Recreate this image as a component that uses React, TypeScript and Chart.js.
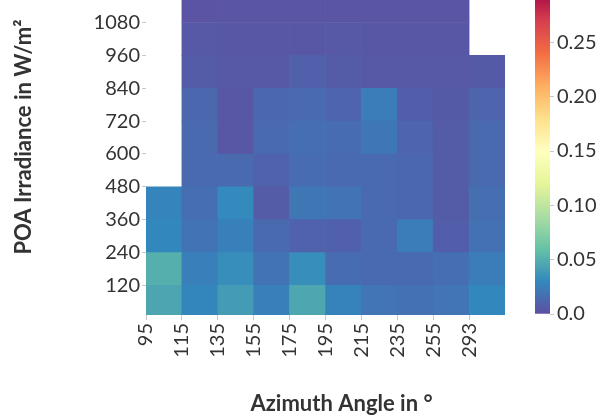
import React, { useEffect, useRef } from "react";
import { Chart, registerables } from "chart.js";

Chart.register(...registerables);

// Azimuth bins (lower edge of each column, in degrees)
const azimuthBins = ["95", "115", "135", "155", "175", "195", "215", "235", "255", "293"];
// Irradiance bin edges (W/m²), bottom to top
const irradianceEdges = [0, 120, 240, 360, 480, 600, 720, 840, 960, 1080, 1200];
const irradianceTicks = [120, 240, 360, 480, 600, 720, 840, 960, 1080];

// Cell values per irradiance band, one entry per azimuth bin (null = no data)
const band0to120 = [0.045, 0.029, 0.040, 0.026, 0.046, 0.027, 0.020, 0.018, 0.020, 0.030];
const band120to240 = [0.050, 0.025, 0.033, 0.019, 0.033, 0.015, 0.014, 0.014, 0.017, 0.024];
const band240to360 = [0.030, 0.019, 0.026, 0.014, 0.010, 0.009, 0.014, 0.024, 0.008, 0.018];
const band360to480 = [0.028, 0.017, 0.031, 0.007, 0.021, 0.019, 0.014, 0.013, 0.007, 0.017];
const band480to600 = [null, 0.014, 0.014, 0.010, 0.016, 0.014, 0.014, 0.013, 0.007, 0.014];
const band600to720 = [null, 0.014, 0.004, 0.014, 0.017, 0.015, 0.021, 0.011, 0.007, 0.014];
const band720to840 = [null, 0.013, 0.004, 0.013, 0.014, 0.011, 0.024, 0.008, 0.006, 0.011];
const band840to960 = [null, 0.007, 0.005, 0.005, 0.009, 0.007, 0.005, 0.005, 0.005, 0.006];
const band960to1080 = [null, 0.005, 0.004, 0.004, 0.004, 0.005, 0.004, 0.004, 0.004, null];
const band1080to1200 = [null, 0.002, 0.003, 0.003, 0.003, 0.003, 0.003, 0.003, 0.003, null];

const bands: (number | null)[][] = [
  band0to120, band120to240, band240to360, band360to480, band480to600,
  band600to720, band720to840, band840to960, band960to1080, band1080to1200,
];

// Colour scale
const colorMin = 0;
const colorMax = 0.3;
const colorbarTicks = [0, 0.05, 0.1, 0.15, 0.2, 0.25];
const spectralR = [
  "#5e4fa2", "#3288bd", "#66c2a5", "#abdda4", "#e6f598", "#ffffbf",
  "#fee08b", "#fdae61", "#f46d43", "#d53e4f", "#9e0142",
];

const textColor = "#333333";
const tickMarkColor = "#c8c8c8";
const fontFamily = "Lato";
const xTitleText = "Azimuth Angle in °";
const yTitleText = "POA Irradiance in W/m²";

function hexToRgb(hex: string): number[] {
  const n = parseInt(hex.slice(1), 16);
  return [(n >> 16) & 255, (n >> 8) & 255, n & 255];
}

function colorFor(value: number): string {
  const t = Math.min(1, Math.max(0, (value - colorMin) / (colorMax - colorMin)));
  const pos = t * (spectralR.length - 1);
  const i = Math.min(spectralR.length - 2, Math.floor(pos));
  const f = pos - i;
  const a = hexToRgb(spectralR[i]);
  const b = hexToRgb(spectralR[i + 1]);
  const c = a.map((v, k) => Math.round(v + (b[k] - v) * f));
  return `rgb(${c[0]}, ${c[1]}, ${c[2]})`;
}

// The x-axis caption sits centred under the heatmap plus colour bar block,
// so it is drawn here rather than through the scale's own title.
const xCaptionPlugin = {
  id: "xCaption",
  afterDraw(chart: any, _args: any, opts: any) {
    const { ctx, chartArea } = chart;
    ctx.save();
    ctx.font = `bold ${opts.size}px ${fontFamily}`;
    ctx.fillStyle = opts.color;
    ctx.textAlign = "center";
    ctx.textBaseline = "alphabetic";
    const cx = (chartArea.left + chartArea.right) / 2 + opts.shift;
    ctx.fillText(opts.text, cx, chartArea.bottom + opts.gap);
    ctx.restore();
  },
};

function heatmapConfig(): any {
  const datasets = bands.map((vals, r) => ({
    data: vals.flatMap((v, c) =>
      v === null ? [] : [{ x: c + 0.5, y: [irradianceEdges[r], irradianceEdges[r + 1]], v }]
    ),
    backgroundColor: (ctx: any) => colorFor(ctx.raw ? ctx.raw.v : 0),
    borderWidth: 0,
    grouped: false,
    barPercentage: 1,
    categoryPercentage: 1,
  }));

  return {
    type: "bar",
    data: { datasets },
    plugins: [xCaptionPlugin],
    options: {
      responsive: false,
      animation: false,
      layout: { padding: { top: 14, right: 15, bottom: 0, left: 0 } },
      plugins: {
        legend: { display: false },
        tooltip: { enabled: false },
        xCaption: { text: xTitleText, size: 22, color: textColor, shift: 16, gap: 96 },
      },
      scales: {
        x: {
          type: "linear",
          min: 0,
          max: azimuthBins.length,
          offset: false,
          afterBuildTicks: (s: any) => {
            s.ticks = azimuthBins.map((_, i) => ({ value: i }));
          },
          afterFit: (s: any) => {
            s.height = 101;
          },
          grid: {
            display: true,
            drawOnChartArea: false,
            drawTicks: true,
            tickLength: 5,
            color: tickMarkColor,
            offset: false,
          },
          border: { display: false },
          ticks: {
            autoSkip: false,
            minRotation: 90,
            maxRotation: 90,
            padding: 3,
            color: textColor,
            font: { family: fontFamily, size: 20 },
            callback: (_v: any, i: number) => azimuthBins[i],
          },
        },
        y: {
          type: "linear",
          min: 12,
          max: 1312,
          afterBuildTicks: (s: any) => {
            s.ticks = irradianceTicks.map((value) => ({ value }));
          },
          afterFit: (s: any) => {
            s.width = 146;
          },
          grid: {
            display: true,
            drawOnChartArea: false,
            drawTicks: true,
            tickLength: 4,
            color: tickMarkColor,
          },
          border: { display: false },
          ticks: {
            padding: 2,
            color: textColor,
            font: { family: fontFamily, size: 20 },
            callback: (v: any) => String(v),
          },
          title: {
            display: true,
            text: yTitleText,
            color: textColor,
            font: { family: fontFamily, size: 22, weight: "bold" },
            padding: { top: 11, bottom: 0 },
          },
        },
      },
    },
  };
}

function colorbarConfig(): any {
  return {
    type: "bar",
    data: {
      labels: [""],
      datasets: [
        {
          data: [[colorMin, colorMax]],
          backgroundColor: (ctx: any) => {
            const chart = ctx.chart;
            const y = chart.scales && chart.scales.y;
            if (!chart.chartArea || !y) return spectralR[0];
            const g = chart.ctx.createLinearGradient(
              0, y.getPixelForValue(colorMin), 0, y.getPixelForValue(colorMax)
            );
            spectralR.forEach((c, i) => g.addColorStop(i / (spectralR.length - 1), c));
            return g;
          },
          borderWidth: 0,
          barPercentage: 1,
          categoryPercentage: 1,
        },
      ],
    },
    options: {
      responsive: false,
      animation: false,
      layout: { padding: { top: 14, right: 0, bottom: 14, left: 0 } },
      plugins: { legend: { display: false }, tooltip: { enabled: false } },
      scales: {
        x: { display: false },
        y: {
          position: "right",
          min: colorMin,
          max: colorMax,
          afterBuildTicks: (s: any) => {
            s.ticks = colorbarTicks.map((value) => ({ value }));
          },
          afterFit: (s: any) => {
            s.width = 59;
          },
          grid: {
            display: true,
            drawOnChartArea: false,
            drawTicks: true,
            tickLength: 4,
            color: tickMarkColor,
          },
          border: { display: false },
          ticks: {
            padding: 3,
            color: textColor,
            font: { family: fontFamily, size: 20 },
            callback: (v: any) => (v === 0 ? "0.0" : Number(v).toFixed(2)),
          },
        },
      },
    },
  };
}

export default function App() {
  const heatRef = useRef<HTMLCanvasElement>(null);
  const barRef = useRef<HTMLCanvasElement>(null);

  useEffect(() => {
    let heat: Chart | null = null;
    let bar: Chart | null = null;
    let cancelled = false;
    const build = () => {
      if (cancelled || !heatRef.current || !barRef.current) return;
      heat = new Chart(heatRef.current, heatmapConfig());
      bar = new Chart(barRef.current, colorbarConfig());
    };
    Promise.all([
      document.fonts.load(`20px ${fontFamily}`),
      document.fonts.load(`bold 22px ${fontFamily}`),
    ]).then(build, build);
    return () => {
      cancelled = true;
      if (heat) heat.destroy();
      if (bar) bar.destroy();
    };
  }, []);

  return (
    <div
      style={{
        position: "fixed",
        left: 0,
        top: 0,
        width: 609,
        height: 416,
        overflow: "hidden",
        background: "#ffffff",
      }}
    >
      <canvas ref={heatRef} width={520} height={471} style={{ position: "absolute", left: 0, top: -55 }} />
      <canvas ref={barRef} width={74} height={356} style={{ position: "absolute", left: 535, top: -27 }} />
    </div>
  );
}
